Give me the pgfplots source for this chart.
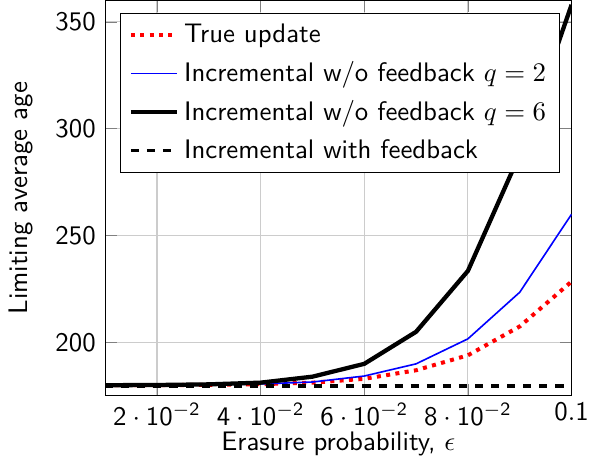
\documentclass[border=0pt]{standalone}
\usepackage{pgfplots}
\pgfplotsset{compat=1.18}
\renewcommand{\familydefault}{\sfdefault}

\begin{document}
\begin{tikzpicture}
\begin{axis}[
  scale only axis, width=174pt, height=147.5pt,
  xmin=0.01, xmax=0.1, ymin=175, ymax=360,
  xtick={0.02,0.04,0.06,0.08,0.1},
  xticklabels={$\mathsf{2}\cdot\mathsf{10}^{-\mathsf{2}}$,
               $\mathsf{4}\cdot\mathsf{10}^{-\mathsf{2}}$,
               $\mathsf{6}\cdot\mathsf{10}^{-\mathsf{2}}$,
               $\mathsf{8}\cdot\mathsf{10}^{-\mathsf{2}}$,
               $\mathsf{0.1}$},
  xticklabel style={yshift=1pt, inner xsep=0.5pt},
  ytick={200,250,300,350},
  yticklabel style={/pgf/number format/assume math mode=true},
  xlabel={Erasure probability, $\epsilon$},
  xlabel style={yshift=4.5pt},
  ylabel={Limiting average age},
  ylabel style={yshift=1.5pt},
  grid=major, grid style={gray!40},
  legend style={at={(0.032,0.969)}, anchor=north west, draw=black, fill=white,
                row sep=1.5pt},
  legend cell align=left,
]
\addplot[red, dotted, line width=1.5pt] coordinates {
  (0.01,180) (0.02,180) (0.03,180.2) (0.04,180.5) (0.05,181.2)
  (0.06,183) (0.07,187) (0.08,194) (0.09,207.5) (0.1,228.5)};
\addlegendentry{True update}
\addplot[blue, line width=0.6pt] coordinates {
  (0.01,180) (0.02,180) (0.03,180.2) (0.04,180.6) (0.05,181.5)
  (0.06,184.3) (0.07,190) (0.08,201.7) (0.09,223.5) (0.1,260)};
\addlegendentry{Incremental w/o feedback $q=2$}
\addplot[black, line width=1.6pt] coordinates {
  (0.01,180) (0.02,180.1) (0.03,180.4) (0.04,181.2) (0.05,184)
  (0.06,190) (0.07,205) (0.08,233.5) (0.09,288) (0.1,358)};
\addlegendentry{Incremental w/o feedback $q=6$}
\addplot[black, dashed, line width=1.4pt] coordinates {
  (0.01,179.7) (0.02,179.7) (0.03,179.7) (0.04,179.7) (0.05,179.7)
  (0.06,179.7) (0.07,179.7) (0.08,179.7) (0.09,179.7) (0.1,179.7)};
\addlegendentry{Incremental with feedback}
\end{axis}
\end{tikzpicture}
\end{document}
